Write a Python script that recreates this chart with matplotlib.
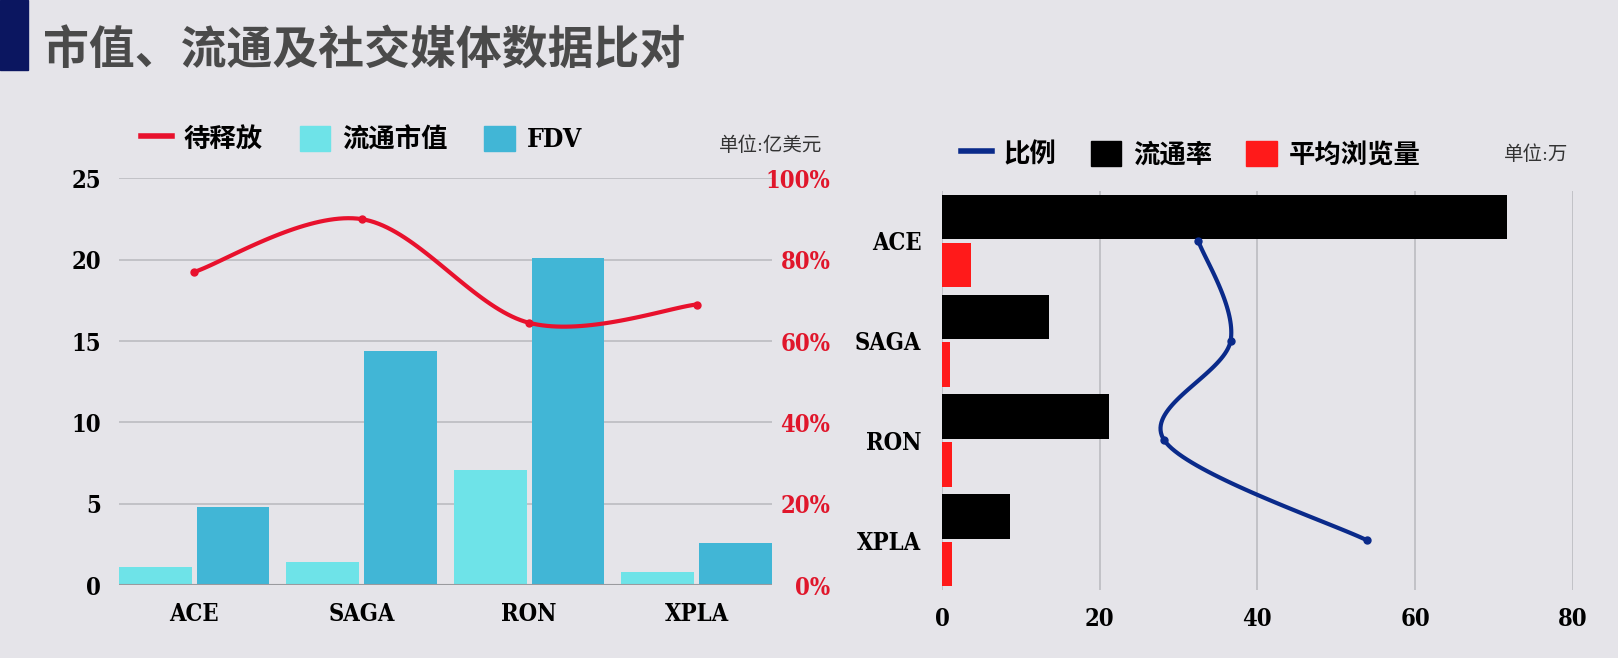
import numpy as np
import matplotlib
matplotlib.use('Agg')
import matplotlib.pyplot as plt
from matplotlib.patches import Patch, Rectangle
from matplotlib.lines import Line2D

# 数据
coins = ['ACE', 'SAGA', 'RON', 'XPLA']
circ_cap = [1.1, 1.4, 7.1, 0.8]        # 流通市值 (亿美元)
fdv = [4.8, 14.4, 20.1, 2.6]           # FDV (亿美元)
unlock = [77, 90, 64.5, 69]            # 待释放 (%)
circ_rate = [71.7, 13.6, 21.2, 8.6]    # 流通率
avg_views = [3.6, 1.0, 1.2, 1.3]       # 平均浏览量 (万)
ratio = [32.5, 36.6, 28.2, 53.9]       # 比例

left_ticks = [0, 5, 10, 15, 20, 25]
pct_ticks = [0, 20, 40, 60, 80, 100]
right_ticks = [0, 20, 40, 60, 80]

BG = '#e5e4e9'
GRID = '#bcbcc1'
FAM = ['DejaVu Serif', 'Noto Sans CJK SC']
plt.rcParams['font.family'] = FAM
plt.rcParams['font.stretch'] = 'condensed'
plt.rcParams['font.weight'] = 'bold'


def smooth(xs, ys, n=40):
    # catmull-rom, 类似 excel 的平滑线
    p = np.column_stack([xs, ys]).astype(float)
    p = np.vstack([p[0], p, p[-1]])
    t = np.linspace(0, 1, n)[:, None]
    out = []
    for i in range(1, len(p) - 2):
        p0, p1, p2, p3 = p[i - 1], p[i], p[i + 1], p[i + 2]
        seg = 0.5 * (2 * p1 + (-p0 + p2) * t + (2 * p0 - 5 * p1 + 4 * p2 - p3) * t ** 2
                     + (-p0 + 3 * p1 - 3 * p2 + p3) * t ** 3)
        out.append(seg)
    out = np.vstack(out)
    return out[:, 0], out[:, 1]


fig = plt.figure(figsize=[16.18, 6.58], dpi=100, facecolor=BG)
fig.patches.append(Rectangle((0, 1 - 70 / 658), 28 / 1618, 70 / 658, transform=fig.transFigure,
                             color='#0b1660', zorder=5))
fig.text(43 / 1618, 0.921, '市值、流通及社交媒体数据比对', fontsize=33, color='#4a4a4a',
         fontweight='heavy', va='center', ha='left')

# 左图
ax = fig.add_axes([0.0734, 0.1108, 0.4037, 0.618])
ax.set_facecolor(BG)
x = np.arange(len(coins))
w = 0.435
ax.bar(x - 0.2325, circ_cap, w, color='#6ee3e8', zorder=2)
ax.bar(x + 0.2325, fdv, w, color='#41b6d6', zorder=2)
ax.set_xlim(-0.45, 3.45)
ax.set_ylim(0, 25)
ax.set_yticks(left_ticks)
ax.set_xticks(x, coins)
ax.grid(axis='y', color=GRID, lw=1.2, zorder=0)
for s in ax.spines.values():
    s.set_visible(False)
ax.axhline(0, color='#9a9a9e', lw=1.5, zorder=3)
ax.tick_params(axis='both', length=0, labelsize=17)
ax.tick_params(axis='x', pad=12)
ax.tick_params(axis='y', pad=13)

ax2 = ax.twinx()
sx, sy = smooth(x, unlock)
ax2.plot(sx, sy, color='#e8112d', lw=3, zorder=4)
ax2.plot(x, unlock, 'o', color='#e8112d', ms=5, zorder=4)
ax2.set_ylim(0, 100)
ax2.set_yticks(pct_ticks, [f'{v}%' for v in pct_ticks])
ax2.tick_params(axis='y', length=0, labelsize=17, colors='#e0162b', pad=42)
plt.setp(ax2.get_yticklabels(), ha='right')
for s in ax2.spines.values():
    s.set_visible(False)

h1 = [Line2D([], [], color='#e8112d', lw=4),
      Patch(color='#6ee3e8'), Patch(color='#41b6d6')]
fig.legend(h1, ['待释放', '流通市值', 'FDV'], loc='center left', bbox_to_anchor=(0.0727, 0.789),
           ncol=3, frameon=False, fontsize=19, handlelength=1.15, handleheight=1.1,
           handletextpad=0.45, columnspacing=1.4)
fig.text(719 / 1618, 0.779, '单位:亿美元', fontsize=14, color='#333333', fontweight='normal',
         va='center', ha='left')

# 右图
bx = fig.add_axes([0.5823, 0.103, 0.3897, 0.6068])
bx.set_facecolor(BG)
y = np.arange(len(coins))
bh = 0.445
bx.barh(y - 0.24, circ_rate, bh, color='black', zorder=2)
bx.barh(y + 0.24, avg_views, bh, color='#ff1a1a', zorder=2)
sx, sy = smooth(ratio, y, n=40)
bx.plot(sx, sy, color='#0a2a8a', lw=3, zorder=4)
bx.plot(ratio, y, 'o', color='#0a2a8a', ms=5, zorder=4)
bx.set_ylim(3.5, -0.5)
bx.set_xlim(0, 80)
bx.set_xticks(right_ticks)
bx.set_yticks(y, coins)
bx.grid(axis='x', color=GRID, lw=1.2, zorder=0)
for s in bx.spines.values():
    s.set_visible(False)
bx.tick_params(axis='both', length=0, labelsize=17)
bx.tick_params(axis='y', pad=15)
bx.tick_params(axis='x', pad=12)

h2 = [Line2D([], [], color='#0a2a8a', lw=4),
      Patch(color='black'), Patch(color='#ff1a1a')]
fig.legend(h2, ['比例', '流通率', '平均浏览量'], loc='center left', bbox_to_anchor=(0.5795, 0.766),
           ncol=3, frameon=False, fontsize=19, handlelength=1.15, handleheight=1.1,
           handletextpad=0.45, columnspacing=1.3)
fig.text(1504 / 1618, 0.765, '单位:万', fontsize=14, color='#333333', fontweight='normal',
         va='center', ha='left')

fig.savefig('out.png', dpi=100, facecolor=BG)
